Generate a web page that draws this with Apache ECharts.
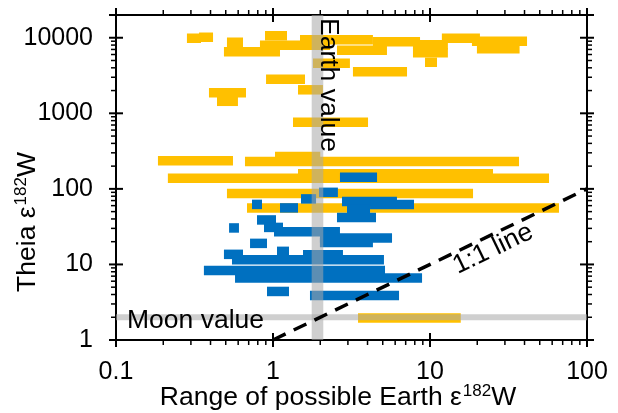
<!DOCTYPE html>
<html><head><meta charset="utf-8">
<script src="https://cdn.jsdelivr.net/npm/echarts@6/dist/echarts.min.js"></script>
<style>html,body{margin:0;padding:0;background:#fff}#c{width:618px;height:413px}</style>
</head><body><div id="c"></div>
<script>
// ---- data ----
const xTickValues = [0.1, 1, 10, 100];
const xTickLabels = ['0.1', '1', '10', '100'];
const yTickValues = [1, 10, 100, 1000, 10000];
const yTickLabels = ['1', '10', '100', '1000', '10000'];
const xRange = [0.1, 100];
const yRange = [1, 20000];
const earthValue = 1.92;
const moonValue = 2;
const oneToOneLine = [[1, 1], [100, 100]];
// [x start, x end, Theia value]
const orangeBars = [
  [0.283, 0.348, 9850], [0.338, 0.415, 10150], [0.509, 0.644, 8720], [0.487, 1.108, 6530],
  [0.889, 1.228, 10630], [0.826, 2.31, 7960], [1.486, 4.33, 9420], [2.556, 5.32, 6830],
  [4.33, 8.64, 8850], [7.79, 13.0, 8070], [7.79, 13.0, 6330], [9.29, 11.08, 4735],
  [11.9, 20.8, 9850], [18.5, 41.5, 8990], [19.9, 37.2, 7150], [1.798, 3.09, 4590],
  [3.23, 7.14, 3545], [0.903, 1.599, 2820], [1.443, 2.08, 2047], [0.391, 0.673, 1870],
  [0.440, 0.598, 1442], [1.341, 4.03, 760],
  [0.185, 0.556, 235], [0.663, 36.9, 231], [1.03, 2.0, 269], [0.214, 57.3, 138],
  [1.443, 25.2, 158], [0.509, 18.8, 87], [0.683, 66.3, 56], [3.48, 15.7, 1.96]
];
const blueBars = [
  [2.67, 4.6, 142], [1.963, 2.59, 90], [1.508, 1.88, 73.7], [0.735, 0.851, 62.3],
  [1.108, 1.443, 56], [2.75, 6.16, 68.3], [4.15, 7.91, 62.3], [2.96, 4.15, 54.3],
  [2.556, 4.53, 41.9], [0.791, 1.045, 38.8], [0.525, 0.607, 30.4], [0.876, 1.158, 30.9],
  [1.015, 2.67, 27], [1.99, 5.73, 22.4], [1.99, 4.33, 19.5], [0.714, 0.916, 19.0],
  [1.06, 1.265, 14.9], [0.487, 0.644, 13.6], [1.553, 2.79, 13.4], [0.548, 5.09, 11.5],
  [0.363, 5.17, 8.3], [0.573, 8.90, 6.63], [0.916, 1.265, 4.39], [1.72, 6.35, 3.88]
];

// ---- tick marks (major + minor log ticks) ----
const tickData = [];
xTickValues.forEach(v => tickData.push([v, yRange[0], 0]));
xTickValues.slice(0, -1).forEach(d => { for (let k = 2; k <= 9; k++) tickData.push([d * k, yRange[0], 1]); });
yTickValues.concat([yRange[1]]).forEach(v => tickData.push([xRange[0], v, 2]));
yTickValues.slice(0, -1).forEach(d => { for (let k = 2; k <= 9; k++) tickData.push([xRange[0], d * k, 3]); });

const FONT = '"Liberation Sans", Arial, Helvetica, sans-serif';
const ORANGE = '#FFC000', BLUE = '#0070C0', GRAY = 'rgba(168,168,168,0.55)';

function labelFor(values, labels) {
  return function (v) {
    for (let i = 0; i < values.length; i++) {
      if (Math.abs(v - values[i]) / values[i] < 1e-6) return labels[i];
    }
    return '';
  };
}

function barRender(h, color) {
  return function (params, api) {
    const p1 = api.coord([api.value(0), api.value(2)]);
    const p2 = api.coord([api.value(1), api.value(2)]);
    return { type: 'rect', shape: { x: p1[0], y: p1[1] - h / 2, width: p2[0] - p1[0], height: h },
      style: { fill: color } };
  };
}

const axisLine = { show: true, lineStyle: { color: '#000', width: 2 } };
function xAx(pos, showLabel) {
  return { type: 'log', logBase: 10, min: xRange[0], max: xRange[1], position: pos,
    axisLine, axisTick: { show: false }, splitLine: { show: false }, minorTick: { show: false },
    axisLabel: { show: showLabel, fontSize: 25, color: '#000', fontFamily: FONT, margin: 20,
      formatter: labelFor(xTickValues, xTickLabels) } };
}
function yAx(pos, showLabel) {
  return { type: 'log', logBase: 10, min: yRange[0], max: yRange[1], position: pos,
    axisLine, axisTick: { show: false }, splitLine: { show: false }, minorTick: { show: false },
    axisLabel: { show: showLabel, fontSize: 25, color: '#000', fontFamily: FONT, margin: 23,
      formatter: labelFor(yTickValues, yTickLabels) } };
}

const chart = echarts.init(document.getElementById('c'), null, { renderer: 'canvas' });
const supRich = {
  a: { fontSize: 26.5, fontFamily: FONT, color: '#000', lineHeight: 31 },
  s: { fontSize: 17, fontFamily: FONT, color: '#000', lineHeight: 19, verticalAlign: 'top', padding: [0, 0, 0, 1] }
};
chart.setOption({
  animation: false,
  grid: { left: 116, right: 31, top: 15, bottom: 73 },
  xAxis: [xAx('bottom', true), xAx('top', false)],
  yAxis: [yAx('left', true), yAx('right', false)],
  series: [
    { type: 'custom', name: 'orange', data: orangeBars, encode: { x: [0, 1], y: 2 },
      renderItem: barRender(9.5, ORANGE), z: 2 },
    { type: 'custom', name: 'blue', data: blueBars, encode: { x: [0, 1], y: 2 },
      renderItem: barRender(9.5, BLUE), z: 3 },
    { type: 'custom', name: 'earth', data: [[earthValue, yRange[0]]], clip: false, z: 4,
      renderItem: function (params, api) {
        const cs = params.coordSys; const p = api.coord([api.value(0), api.value(1)]);
        return { type: 'rect', shape: { x: p[0] - 5.8, y: cs.y, width: 11.6, height: cs.height }, style: { fill: GRAY } };
      } },
    { type: 'custom', name: 'moon', data: [[xRange[0], moonValue]], clip: false, z: 4,
      renderItem: function (params, api) {
        const cs = params.coordSys; const p = api.coord([api.value(0), api.value(1)]);
        return { type: 'rect', shape: { x: cs.x, y: p[1] - 3, width: cs.width, height: 6 }, style: { fill: GRAY } };
      } },
    { type: 'line', name: '1:1', data: oneToOneLine, symbol: 'none', z: 5,
      lineStyle: { color: '#000', width: 3.5, type: [14, 9] } },
    { type: 'custom', name: 'ticks', data: tickData, clip: false, z: 6, silent: true,
      renderItem: function (params, api) {
        const cs = params.coordSys; const kind = api.value(2);
        const L = 7, m = 5; const segs = [];
        if (kind < 2) {
          const px = api.coord([api.value(0), yRange[0]])[0];
          const yb = cs.y + cs.height, yt = cs.y;
          if (kind === 0) { segs.push([px, yb - L, px, yb + L], [px, yt - L, px, yt + L]); }
          else { segs.push([px, yb, px, yb + m], [px, yt - m, px, yt]); }
        } else {
          const py = api.coord([xRange[0], api.value(1)])[1];
          const xl = cs.x, xr = cs.x + cs.width;
          if (kind === 2) { segs.push([xl - L, py, xl + L, py], [xr - L, py, xr + L, py]); }
          else { segs.push([xl - m, py, xl, py], [xr, py, xr + m, py]); }
        }
        return { type: 'group', children: segs.map(s => ({ type: 'line',
          shape: { x1: s[0], y1: s[1], x2: s[2], y2: s[3] },
          style: { stroke: '#000', lineWidth: kind % 2 === 0 ? 2 : 1.5 } })) };
      } }
  ],
  graphic: [
    { type: 'text', x: 328, y: 85, rotation: -Math.PI / 2, z: 100,
      style: { text: 'Earth value', fontSize: 26.5, fontFamily: FONT, fill: '#000', align: 'center', verticalAlign: 'middle' } },
    { type: 'text', x: 127, y: 321, z: 100,
      style: { text: 'Moon value', fontSize: 26.5, fontFamily: FONT, fill: '#000', align: 'left', verticalAlign: 'middle' } },
    { type: 'text', x: 493, y: 249, rotation: 0.448, z: 100,
      style: { text: '1:1 line', fontSize: 26.5, fontFamily: FONT, fill: '#000', align: 'center', verticalAlign: 'middle' } },
    { type: 'text', x: 338, y: 398, z: 100,
      style: { text: '{a|Range of possible Earth ε}{s|182}{a|W}', rich: supRich, align: 'center', verticalAlign: 'middle' } },
    { type: 'text', x: 28, y: 222, rotation: Math.PI / 2, z: 100,
      style: { text: '{a|Theia ε}{s|182}{a|W}', rich: supRich, align: 'center', verticalAlign: 'middle' } }
  ]
});
</script></body></html>
